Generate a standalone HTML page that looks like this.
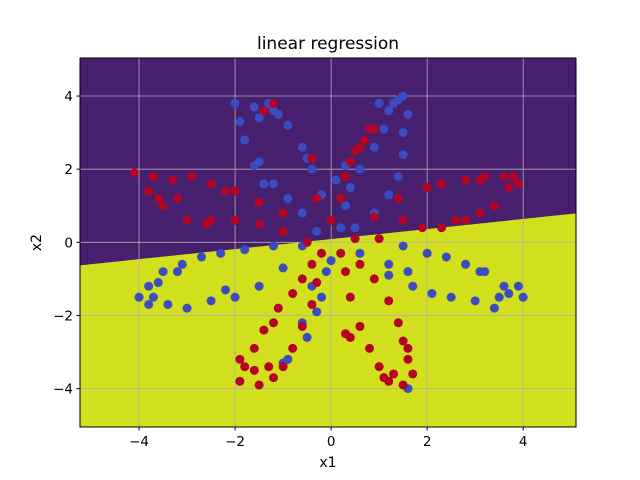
<!DOCTYPE html>
<html><head><meta charset="utf-8"><style>body{margin:0;background:#fff}svg{display:block;font-family:"DejaVu Sans","Liberation Sans",sans-serif}</style></head>
<body>
<svg id="chart" width="640" height="480" xmlns="http://www.w3.org/2000/svg"></svg>
<script>
const xTicks=[-4,-2,0,2,4];
const yTicks=[-4,-2,0,2,4];
const boundaryX=[-5.23,5.1];
const boundaryY=[-0.63,0.79];
const blueX=[-0.3,-0.6,-0.9,-1.2,-1.5,-1.8,-1.9,-2,-1.6,-1.2,-0.9,-0.6,-0.4,-0.2,-1.3,-1.5,-1.4,-1.6,-0.5,-1.1,
0.2,0.3,0.4,0.6,0.9,1.1,1.2,1.0,1.4,1.5,1.6,1.5,1.5,1.4,1.2,0.9,0.5,1.3,0.3,0.1,
-0.6,-1.2,-1.8,-2.3,-2.7,-3.1,-3.5,-3.8,-4,-3.8,-3.4,-3,-2.5,-2,-1.5,-1,-3.2,-3.6,-2.2,-3.7,
0.6,1.2,1.6,2,2.4,2.8,3.2,3.6,4,3.9,3.5,3.4,3,2.5,2.1,1.7,1.2,3.1,3.7,1.5,
-0.1,-0.2,-0.3,-0.5,-0.9,-1.0,-0.6,1.6,0,-0.4];
const blueY=[0.3,0.8,1.2,1.6,2.2,2.8,3.3,3.8,3.7,3.6,3.2,2.6,2.0,1.3,3.8,3.4,1.6,2.1,2.3,3.5,
0.4,1,1.5,2,2.6,3.1,3.6,3.8,3.9,4.0,3.5,3,2.4,1.8,1.3,0.8,0.4,3.8,2.1,1.7,
-0.1,-0.1,-0.2,-0.3,-0.4,-0.6,-0.8,-1.2,-1.5,-1.7,-1.7,-1.8,-1.6,-1.5,-1.2,-0.7,-0.8,-1.1,-1.3,-1.5,
-0.3,-0.6,-0.8,-0.3,-0.4,-0.6,-0.8,-1.2,-1.5,-1.2,-1.5,-1.8,-1.6,-1.5,-1.4,-1.2,-0.9,-0.8,-1.4,-0.1,
-0.8,-1.5,-1.9,-2.6,-3.2,-3.3,-2.2,-4.0,-0.5,-1.2];
const redX=[-0.5,-1,-1.5,-2,-2.5,-3,-3.5,-3.8,-4.1,-3.7,-3.3,-2.9,-2.5,-2,-1.5,-1,-3.2,-3.6,-2.2,-2.6,
0.5,1,1.5,1.9,2.3,2.8,3.1,3.4,3.7,3.8,3.6,3.1,2.8,2.3,2,1.4,0.9,3.2,3.9,2.6,
0,0.2,0.3,0.5,0.7,0.8,0.9,0.6,0.4,-0.4,-0.3,-1.2,-1.4,
-0.2,-0.4,-0.6,-0.8,-1.1,-1.4,-1.6,-1.8,-1.9,-1.5,-1.2,-1,-0.8,-0.6,-0.4,-0.3,-1.2,-1.6,-1.9,-1.3,
0.2,0.3,0.4,0.6,0.8,1,1.2,1.5,1.7,1.6,1.5,1.4,1.2,0.9,0.6,0.3,1.3,1.6,0.4,1.1];
const redY=[0,0.3,0.5,0.6,0.6,0.6,1.0,1.4,1.9,1.8,1.7,1.8,1.6,1.4,1.1,0.8,1.2,1.2,1.4,0.5,
0.1,0.1,0.6,0.4,0.4,0.6,0.8,1.0,1.5,1.8,1.8,1.7,1.7,1.6,1.5,1.2,0.7,1.8,1.6,0.6,
0.6,1.2,1.8,2.5,2.8,3.1,3.1,2.6,2.2,2.3,1.2,3.8,3.6,
-0.3,-0.6,-1,-1.4,-1.8,-2.4,-2.9,-3.4,-3.8,-3.9,-3.7,-3.4,-2.9,-2.3,-1.7,-1.1,-2.2,-3.5,-3.2,-3.4,
-0.3,-0.8,-1.5,-2.3,-2.9,-3.4,-3.8,-3.9,-3.6,-3.2,-2.7,-2.2,-1.6,-1,-0.6,-2.5,-3.6,-2.9,-2.6,-3.7];
const L=80,R=576,T=58,B=427,xmin=-5.23,xmax=5.1,ymin=-5.05,ymax=5.04;
const sx=v=>L+(v-xmin)/(xmax-xmin)*(R-L), sy=v=>B-(v-ymin)/(ymax-ymin)*(B-T);
const svg=document.getElementById('chart');const NS='http://www.w3.org/2000/svg';
function add(tag,attrs,parent){const e=document.createElementNS(NS,tag);for(const k in attrs)e.setAttribute(k,attrs[k]);(parent||svg).appendChild(e);return e;}
let e=add('rect',{x:L,y:T,width:R-L,height:B-T,fill:'#d1df1c'});


const x0=sx(boundaryX[0]),y0=sy(boundaryY[0]),x1=sx(boundaryX[1]),y1=sy(boundaryY[1]);
e=add('polygon',{points:`${L},${T} ${R},${T} ${R},${y1} ${L},${y0}`,fill:'#471f6f'});


const g=add('g',{stroke:'#b0b0b0','stroke-width':0.8});


xTicks.forEach(t=>add('line',{x1:sx(t),x2:sx(t),y1:T,y2:B},g));
yTicks.forEach(t=>add('line',{x1:L,x2:R,y1:sy(t),y2:sy(t)},g));
const pts=add('g',{});


blueX.forEach((v,i)=>{const c=add('circle',{cx:sx(v),cy:sy(blueY[i]),r:4.5,fill:'#3b4cc0'},pts);});
redX.forEach((v,i)=>{const c=add('circle',{cx:sx(v),cy:sy(redY[i]),r:4.5,fill:'#b40426'},pts);});
e=add('rect',{x:L,y:T,width:R-L,height:B-T,fill:'none',stroke:'#000','stroke-width':1});


xTicks.forEach(t=>{add('line',{x1:sx(t),x2:sx(t),y1:B,y2:B+3.5,stroke:'#000'});const tx=add('text',{x:sx(t),y:B+19,'text-anchor':'middle','font-size':13.5});tx.textContent=(t<0?'\u2212'+(-t):t);});
yTicks.forEach(t=>{add('line',{x1:L,x2:L-3.5,y1:sy(t),y2:sy(t),stroke:'#000'});const tx=add('text',{x:L-7,y:sy(t)+5,'text-anchor':'end','font-size':13.5});tx.textContent=(t<0?'\u2212'+(-t):t);});
e=add('text',{x:(L+R)/2,y:49,'text-anchor':'middle','font-size':17});e.textContent='linear regression';


e=add('text',{x:(L+R)/2,y:467,'text-anchor':'middle','font-size':14});e.textContent='x1';


e=add('text',{x:41,y:(T+B)/2,'text-anchor':'middle','font-size':14,transform:`rotate(-90 41 ${(T+B)/2})`});e.textContent='x2';


</script>
</body></html>
